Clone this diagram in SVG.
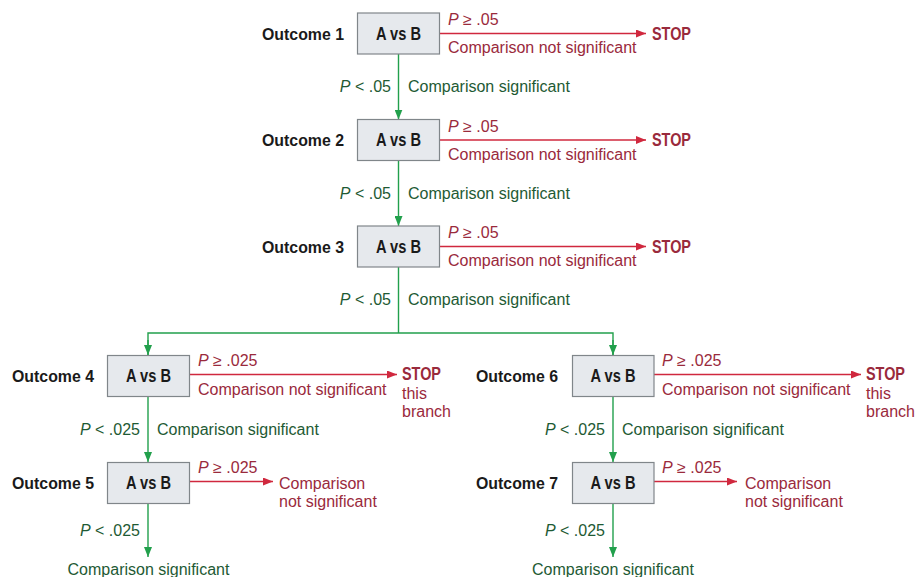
<svg xmlns="http://www.w3.org/2000/svg" width="915" height="577" viewBox="0 0 915 577">
<style>
text{font-family:"Liberation Sans",Arial,sans-serif}
.box{fill:#e6e9ed;stroke:#80868a;stroke-width:1.2}
.bx{font-size:17.5px;font-weight:bold;fill:#1a1a1a;text-anchor:middle}
.out{font-size:17px;font-weight:bold;fill:#1a1a1a;text-anchor:end}
.red{font-size:16px;fill:#9a2a3c}
.stop{font-size:17.5px;font-weight:bold;fill:#9a2a3c}
.grn{font-size:16px;fill:#1e5a34}
.ge{text-anchor:end}
.gm{text-anchor:middle}
.rl{stroke:#d0283e;stroke-width:1.4;fill:none}
.gl{stroke:#22a04c;stroke-width:1.4;fill:none}
</style>
<defs>
<marker id="ar" viewBox="0 0 10 8" refX="10" refY="4" markerWidth="10" markerHeight="8" markerUnits="userSpaceOnUse" orient="auto"><path d="M0,0 L10,4 L0,8 z" fill="#d0283e"/></marker>
<marker id="ag" viewBox="0 0 10 8" refX="10" refY="4" markerWidth="10" markerHeight="8" markerUnits="userSpaceOnUse" orient="auto"><path d="M0,0 L10,4 L0,8 z" fill="#22a04c"/></marker>
</defs>
<g id="connectors">
<line class="rl" x1="440" y1="33.5" x2="646" y2="33.5" marker-end="url(#ar)"/>
<line class="rl" x1="440" y1="140" x2="646" y2="140" marker-end="url(#ar)"/>
<line class="rl" x1="440" y1="246.5" x2="646" y2="246.5" marker-end="url(#ar)"/>
<line class="rl" x1="189" y1="374.5" x2="397" y2="374.5" marker-end="url(#ar)"/>
<line class="rl" x1="189" y1="481.5" x2="273" y2="481.5" marker-end="url(#ar)"/>
<line class="rl" x1="654" y1="374.5" x2="861" y2="374.5" marker-end="url(#ar)"/>
<line class="rl" x1="654" y1="481.5" x2="737" y2="481.5" marker-end="url(#ar)"/>
<line class="gl" x1="398.5" y1="54" x2="398.5" y2="119.5" marker-end="url(#ag)"/>
<line class="gl" x1="398.5" y1="160.5" x2="398.5" y2="226" marker-end="url(#ag)"/>
<polyline class="gl" points="398.5,267 398.5,333"/>
<polyline class="gl" points="148,355 148,333 613,333 613,355"/>
<line class="gl" x1="148" y1="340" x2="148" y2="355" marker-end="url(#ag)"/>
<line class="gl" x1="613" y1="340" x2="613" y2="355" marker-end="url(#ag)"/>
<line class="gl" x1="148" y1="397" x2="148" y2="462" marker-end="url(#ag)"/>
<line class="gl" x1="613" y1="397" x2="613" y2="462" marker-end="url(#ag)"/>
<line class="gl" x1="148" y1="503" x2="148" y2="557" marker-end="url(#ag)"/>
<line class="gl" x1="613" y1="503" x2="613" y2="557" marker-end="url(#ag)"/>
</g>
<g id="node1">
<rect class="box" x="357.5" y="13" width="82" height="41"/>
<text class="bx" x="398.5" y="39.5" textLength="45" lengthAdjust="spacingAndGlyphs">A vs B</text>
<text class="out" x="344" y="39.5" textLength="82" lengthAdjust="spacingAndGlyphs">Outcome 1</text>
<text class="red" x="448" y="25"><tspan font-style="italic">P</tspan> ≥ .05</text>
<text class="red" x="448" y="53">Comparison not significant</text>
<text class="stop" x="652" y="39.5" textLength="39" lengthAdjust="spacingAndGlyphs">STOP</text>
<text class="grn ge" x="391" y="92"><tspan font-style="italic">P</tspan> &lt; .05</text>
<text class="grn" x="408" y="92">Comparison significant</text>
</g>
<g id="node2">
<rect class="box" x="357.5" y="119.5" width="82" height="41"/>
<text class="bx" x="398.5" y="146" textLength="45" lengthAdjust="spacingAndGlyphs">A vs B</text>
<text class="out" x="344" y="146" textLength="82" lengthAdjust="spacingAndGlyphs">Outcome 2</text>
<text class="red" x="448" y="131.5"><tspan font-style="italic">P</tspan> ≥ .05</text>
<text class="red" x="448" y="159.5">Comparison not significant</text>
<text class="stop" x="652" y="146" textLength="39" lengthAdjust="spacingAndGlyphs">STOP</text>
<text class="grn ge" x="391" y="198.5"><tspan font-style="italic">P</tspan> &lt; .05</text>
<text class="grn" x="408" y="198.5">Comparison significant</text>
</g>
<g id="node3">
<rect class="box" x="357.5" y="226" width="82" height="41"/>
<text class="bx" x="398.5" y="252.5" textLength="45" lengthAdjust="spacingAndGlyphs">A vs B</text>
<text class="out" x="344" y="252.5" textLength="82" lengthAdjust="spacingAndGlyphs">Outcome 3</text>
<text class="red" x="448" y="238"><tspan font-style="italic">P</tspan> ≥ .05</text>
<text class="red" x="448" y="266">Comparison not significant</text>
<text class="stop" x="652" y="252.5" textLength="39" lengthAdjust="spacingAndGlyphs">STOP</text>
<text class="grn ge" x="391" y="305"><tspan font-style="italic">P</tspan> &lt; .05</text>
<text class="grn" x="408" y="305">Comparison significant</text>
</g>
<g id="node4">
<rect class="box" x="107.5" y="355.5" width="82" height="41"/>
<text class="bx" x="148.5" y="381.5" textLength="45" lengthAdjust="spacingAndGlyphs">A vs B</text>
<text class="out" x="94" y="381.5" textLength="82" lengthAdjust="spacingAndGlyphs">Outcome 4</text>
<text class="red" x="198" y="366"><tspan font-style="italic">P</tspan> ≥ .025</text>
<text class="red" x="198" y="395">Comparison not significant</text>
<text class="stop" x="402" y="380" textLength="39" lengthAdjust="spacingAndGlyphs">STOP</text>
<text class="red" x="402" y="399">this</text>
<text class="red" x="402" y="417">branch</text>
<text class="grn ge" x="140" y="434.5"><tspan font-style="italic">P</tspan> &lt; .025</text>
<text class="grn" x="157" y="434.5">Comparison significant</text>
</g>
<g id="node5">
<rect class="box" x="107.5" y="462.5" width="82" height="41"/>
<text class="bx" x="148.5" y="488.5" textLength="45" lengthAdjust="spacingAndGlyphs">A vs B</text>
<text class="out" x="94" y="488.5" textLength="82" lengthAdjust="spacingAndGlyphs">Outcome 5</text>
<text class="red" x="198" y="472.5"><tspan font-style="italic">P</tspan> ≥ .025</text>
<text class="red" x="279" y="489">Comparison</text>
<text class="red" x="279" y="507">not significant</text>
<text class="grn ge" x="140" y="535.5"><tspan font-style="italic">P</tspan> &lt; .025</text>
<text class="grn gm" x="148.5" y="575">Comparison significant</text>
</g>
<g id="node6">
<rect class="box" x="572.5" y="355.5" width="81.5" height="41"/>
<text class="bx" x="613" y="381.5" textLength="45" lengthAdjust="spacingAndGlyphs">A vs B</text>
<text class="out" x="558" y="381.5" textLength="82" lengthAdjust="spacingAndGlyphs">Outcome 6</text>
<text class="red" x="662" y="366"><tspan font-style="italic">P</tspan> ≥ .025</text>
<text class="red" x="662" y="395">Comparison not significant</text>
<text class="stop" x="866" y="380" textLength="39" lengthAdjust="spacingAndGlyphs">STOP</text>
<text class="red" x="866" y="399">this</text>
<text class="red" x="866" y="417">branch</text>
<text class="grn ge" x="605" y="434.5"><tspan font-style="italic">P</tspan> &lt; .025</text>
<text class="grn" x="622" y="434.5">Comparison significant</text>
</g>
<g id="node7">
<rect class="box" x="572.5" y="462.5" width="81.5" height="41"/>
<text class="bx" x="613" y="488.5" textLength="45" lengthAdjust="spacingAndGlyphs">A vs B</text>
<text class="out" x="558" y="488.5" textLength="82" lengthAdjust="spacingAndGlyphs">Outcome 7</text>
<text class="red" x="662" y="472.5"><tspan font-style="italic">P</tspan> ≥ .025</text>
<text class="red" x="745" y="489">Comparison</text>
<text class="red" x="745" y="507">not significant</text>
<text class="grn ge" x="605" y="535.5"><tspan font-style="italic">P</tspan> &lt; .025</text>
<text class="grn gm" x="613" y="575">Comparison significant</text>
</g>
</svg>
